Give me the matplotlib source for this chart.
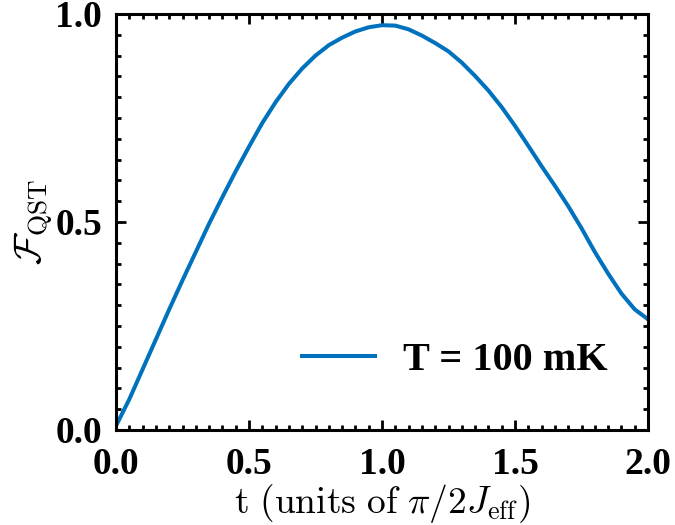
import matplotlib
matplotlib.use('Agg')
import matplotlib.pyplot as plt
from matplotlib.ticker import MultipleLocator

plt.rcParams['mathtext.fontset'] = 'cm'
plt.rcParams['font.family'] = 'serif'
plt.rcParams['font.serif'] = ['Liberation Serif', 'DejaVu Serif']

# fidelity curve
t = [0.00, 0.05, 0.10, 0.15, 0.20, 0.25, 0.30, 0.35, 0.40, 0.45,
     0.50, 0.55, 0.60, 0.65, 0.70, 0.75, 0.80, 0.85, 0.90, 0.95,
     1.00, 1.05, 1.10, 1.15, 1.20, 1.25, 1.30, 1.35, 1.40, 1.45,
     1.50, 1.55, 1.60, 1.65, 1.70, 1.75, 1.80, 1.85, 1.90, 1.95, 2.00]
F = [0.010, 0.074, 0.146, 0.218, 0.290, 0.360, 0.428, 0.496, 0.560, 0.622,
     0.681, 0.738, 0.788, 0.832, 0.869, 0.900, 0.925, 0.943, 0.958, 0.968,
     0.973, 0.972, 0.963, 0.948, 0.930, 0.910, 0.883, 0.851, 0.816, 0.776,
     0.731, 0.683, 0.634, 0.587, 0.538, 0.485, 0.428, 0.376, 0.328, 0.290, 0.266]
series_label = 'T = 100 mK'

fig = plt.figure(figsize=(6.75, 5.25), dpi=100)
ax = fig.add_axes([0.1719, 0.181, 0.7881, 0.7924])
ax.plot(t, F, color='#0072BD', lw=2.9, label=series_label)

ax.set_xlim(0, 2.0)
ax.set_ylim(0, 1.0)
ax.xaxis.set_major_locator(MultipleLocator(0.5))
ax.xaxis.set_minor_locator(MultipleLocator(0.05))
ax.yaxis.set_major_locator(MultipleLocator(0.5))
ax.yaxis.set_minor_locator(MultipleLocator(0.05))
ax.tick_params(which='both', direction='in', top=True, right=True, width=2)
ax.tick_params(which='major', length=7, labelsize=27)
ax.tick_params(axis='x', which='major', pad=12)
ax.tick_params(axis='y', which='major', pad=10)
ax.tick_params(which='minor', length=3.5)
for lab in ax.get_xticklabels() + ax.get_yticklabels():
    lab.set_fontweight('bold')
for s in ax.spines.values():
    s.set_linewidth(2.2)

ax.set_xlabel(r'$\mathrm{t\ (units\ of\ }\pi/2J_{\rm eff})$', fontsize=27, labelpad=0)
ax.set_ylabel(r'$\mathcal{F}_{\rm QST}$', fontsize=28, labelpad=0)

leg = ax.legend(loc='center left', bbox_to_anchor=(0.3496, 0.168), frameon=False,
                prop={'size': 29, 'weight': 'bold'}, borderpad=0, borderaxespad=0,
                handlelength=1.8, handletextpad=0.7)

fig.savefig('out.png', dpi=100)
